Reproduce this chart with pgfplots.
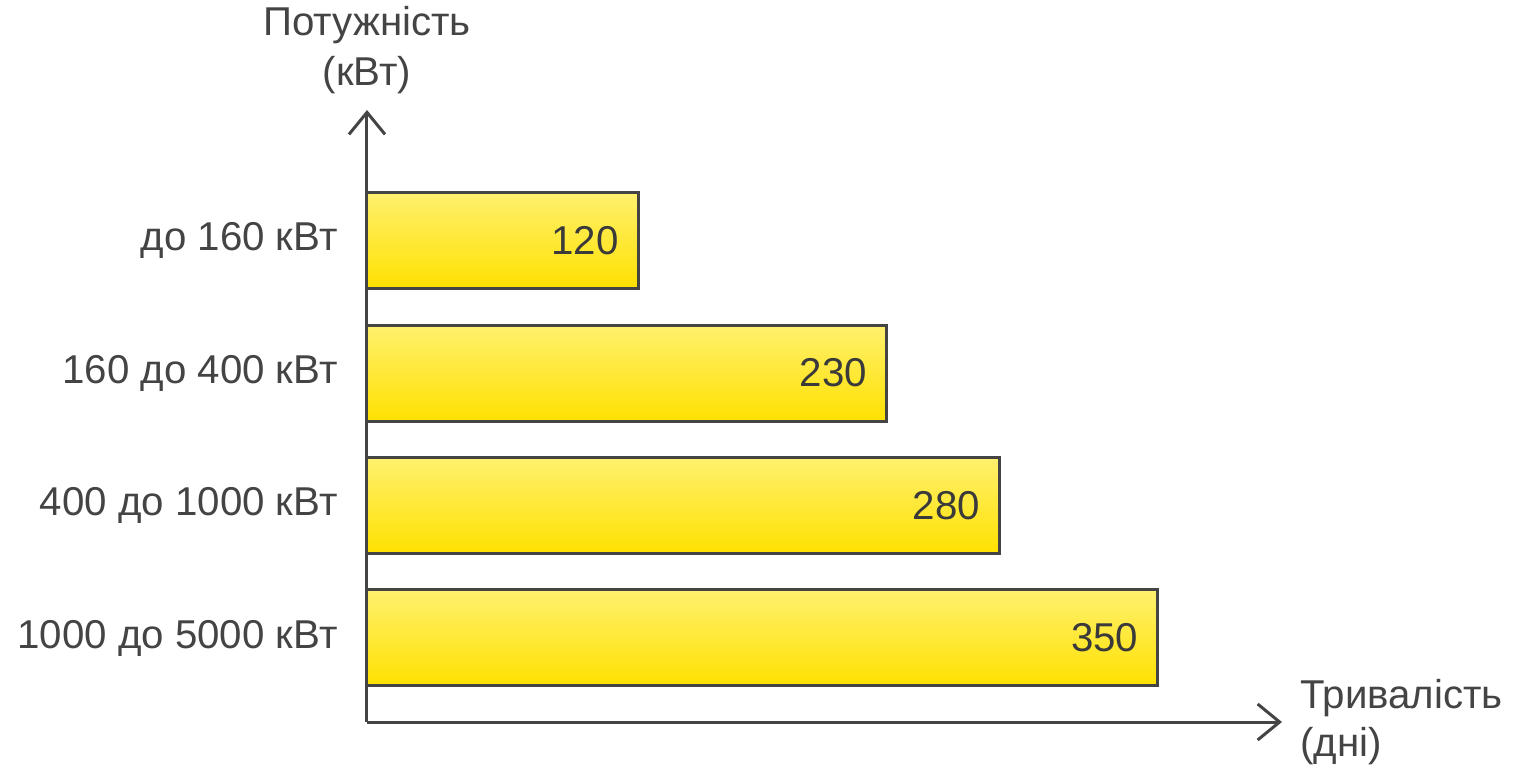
\documentclass[border=0pt]{standalone}
\usepackage{pgfplots}
\pgfplotsset{compat=1.18}
\usepackage{fontspec}
\setmainfont{Liberation Sans}
\usetikzlibrary{arrows.meta}
\definecolor{ink}{HTML}{444444}
\definecolor{bartop}{HTML}{FFF06E}
\definecolor{barbot}{HTML}{FFE100}
\pgfplotsset{yellowbar/.style={xbar, draw=ink, line width=1.5bp,
    top color=bartop, bottom color=barbot}}
\begin{document}
\begin{tikzpicture}
\useasboundingbox (-183.5bp,-23.5bp) rectangle (573.5bp,361bp);
\begin{axis}[
    at={(0,0)}, anchor=south west,
    scale only axis,
    width=457.5bp, height=306bp,
    xbar, bar width=48bp, bar shift=0pt,
    point meta=x,
    xmin=0, xmax=405,
    ymin=0.366, ymax=4.985,
    axis lines=left,
    axis line style={draw=ink, line width=1.5bp, -{Straight Barb[length=11bp, width=18bp, line width=1.5bp]}},
    xtick=\empty,
    ytick={1,2,3,4},
    yticklabels={1000 до 5000 кВт, 400 до 1000 кВт, 160 до 400 кВт, до 160 кВт},
    major tick length=0pt,
    yticklabel style={font=\fontsize{20.2}{23}\selectfont, text=ink, inner sep=0pt, anchor=east, xshift=-14.5bp},
    xlabel={Тривалість\\(дні)},
    xlabel style={at={(axis description cs:1,0)}, anchor=west, align=left, inner sep=0pt,
        xshift=9bp, font=\fontsize{20.2}{24}\selectfont, text=ink},
    ylabel={Потужність\\(кВт)},
    ylabel style={at={(axis description cs:0,1)}, rotate=-90, anchor=south, align=center, inner sep=0pt,
        yshift=8bp, font=\fontsize{20.2}{25}\selectfont, text=ink},
    nodes near coords={\pgfmathprintnumber[assume math mode=true]{\pgfplotspointmeta}},
    every node near coord/.append style={anchor=east, inner sep=0pt, xshift=-9bp,
        font=\fontsize{20.2}{23}\selectfont, text=ink!85!black},
    clip=false,
]
\addplot[yellowbar] coordinates {(350,1)};
\addplot[yellowbar] coordinates {(280,2)};
\addplot[yellowbar] coordinates {(230,3)};
\addplot[yellowbar] coordinates {(120,4)};
\end{axis}
\end{tikzpicture}
\end{document}
